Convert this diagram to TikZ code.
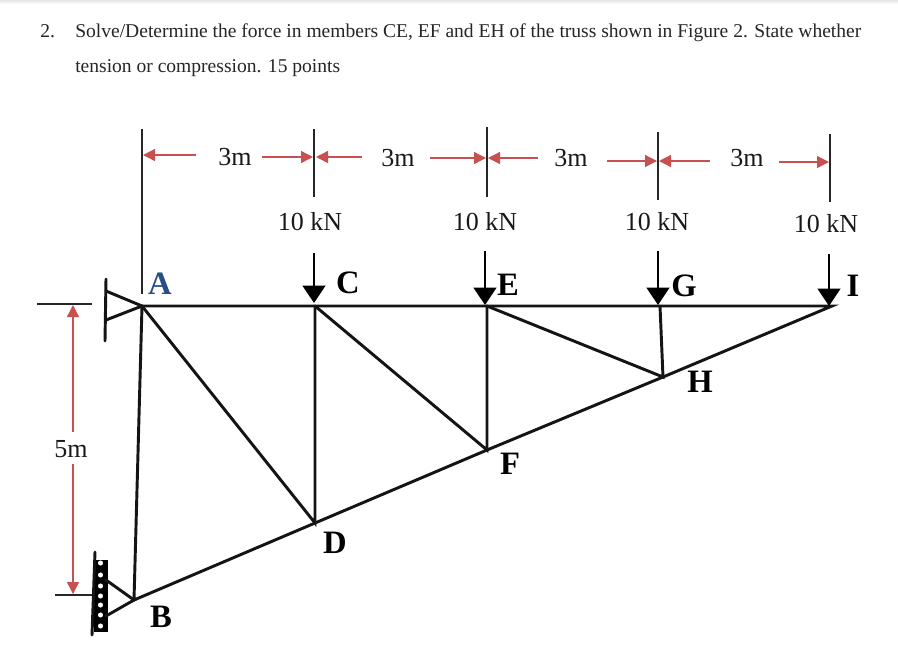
\documentclass[tikz,border=0pt]{standalone}
\usepackage{fontspec}
\setmainfont{Liberation Serif}
\usetikzlibrary{arrows.meta}
\definecolor{dimred}{RGB}{200,80,80}
\definecolor{nodeblue}{RGB}{38,78,135}
\tikzset{
 x=0.75pt,y=-0.75pt,
 member/.style={line width=2.2pt,line cap=round,black!92},
 tick/.style={line width=0.95pt,black!85},
 dimarrow/.style={line width=1pt,dimred,-{Triangle[length=9pt,width=9pt]}},
 load/.style={line width=1.6pt,black,-{Triangle[length=13pt,width=17pt]}},
 body/.style={inner sep=0pt,anchor=base west,text=black!85,font=\fontsize{14.66pt}{16pt}\selectfont},
 dimtext/.style={inner sep=0pt,text=black!90,font=\fontsize{19.5pt}{22pt}\selectfont},
 joint/.style={inner sep=0pt,text=black,font=\fontsize{24.5pt}{26pt}\selectfont\bfseries},
}
\begin{document}
\begin{tikzpicture}
\useasboundingbox (0,0) rectangle (898,669);
\fill[white] (0,0) rectangle (898,669);
\shade[top color=black!10,bottom color=white] (0,0) rectangle (898,4);
% text
\node[body] (num) at (40,37) {2.};
\node[body] (l1) at (75,37) {Solve/Determine the force in members CE, EF and EH of the truss shown in Figure 2. State whether};
\node[body] (l2) at (75,72) {tension or compression. 15 points};
% joints
\coordinate (A) at (142,306);
\coordinate (C) at (315,306);
\coordinate (E) at (487,306);
\coordinate (G) at (660,306);
\coordinate (I) at (832,306);
\coordinate (B) at (134,600);
\coordinate (D) at (315,523);
\coordinate (F) at (487,450);
\coordinate (H) at (663,377);
% members
\draw[member] (A)--(C)--(E)--(G)--(I)--(H)--(F)--(D)--(B)--(A);
\draw[member] (A)--(D)--(C);
\draw[member] (C)--(F)--(E);
\draw[member] (E)--(H)--(G);
% supports
\coordinate (pa1) at (106,279); \coordinate (pa2) at (105,341);
\coordinate (ta1) at (106,291); \coordinate (ta2) at (106,320);
\draw[member] (pa1)--(pa2);
\draw[member] (ta1)--(A)--(ta2);
\coordinate (pb1) at (95,552); \coordinate (pb2) at (92,635);
\coordinate (tb1) at (106,580); \coordinate (tb2) at (106,616);
\fill[black] (94,560) rectangle (108,632);
\draw[member] (pb1)--(pb2);
\draw[member] (tb1)--(B)--(tb2);
\foreach \yy in {563,575,586,596,605,615,626}
  \fill[white] (100.5,\yy) circle[radius=1.9pt];
% dimension ticks
\coordinate (t1a) at (142,129); \coordinate (t1b) at (142,294);
\coordinate (t2a) at (314,129); \coordinate (t2b) at (314,197);
\coordinate (t3a) at (487,127); \coordinate (t3b) at (487,197);
\coordinate (t4a) at (658,132); \coordinate (t4b) at (658,200);
\coordinate (t5a) at (830,134); \coordinate (t5b) at (830,202);
\foreach \p in {1,...,5} \draw[tick] (t\p a)--(t\p b);
\coordinate (v1a) at (37,304); \coordinate (v1b) at (92,304);
\coordinate (v2a) at (55,595); \coordinate (v2b) at (92,595);
\draw[tick] (v1a)--(v1b);
\draw[tick] (v2a)--(v2b);
% dimension labels
\node[dimtext] (d1) at (235,157) {3m};
\node[dimtext] (d2) at (398,158) {3m};
\node[dimtext] (d3) at (571,158) {3m};
\node[dimtext] (d4) at (747,158) {3m};
\node[dimtext] (d5) at (71,449) {5m};
% red arrows
\coordinate (a1) at (196,155); \coordinate (a1e) at (143,155);
\coordinate (a2) at (262,157); \coordinate (a2e) at (313,157);
\coordinate (a3) at (362,157); \coordinate (a3e) at (316,157);
\coordinate (a4) at (430,158); \coordinate (a4e) at (486,158);
\coordinate (a5) at (538,158); \coordinate (a5e) at (488,158);
\coordinate (a6) at (607,161); \coordinate (a6e) at (657,161);
\coordinate (a7) at (710,161); \coordinate (a7e) at (659,161);
\coordinate (a8) at (779,162); \coordinate (a8e) at (829,162);
\foreach \p in {1,...,8} \draw[dimarrow] (a\p)--(a\p e);
\coordinate (a9) at (73,432); \coordinate (a9e) at (73,305);
\coordinate (a10) at (73,464); \coordinate (a10e) at (73,594);
\draw[dimarrow] (a9)--(a9e);
\draw[dimarrow] (a10)--(a10e);
% loads
\node[dimtext] (k1) at (310,222) {10 kN};
\node[dimtext] (k2) at (485,222) {10 kN};
\node[dimtext] (k3) at (657,222) {10 kN};
\node[dimtext] (k4) at (826,224) {10 kN};
\coordinate (f1) at (314,253); \coordinate (f1e) at (314,303);
\coordinate (f2) at (485,251); \coordinate (f2e) at (485,305);
\coordinate (f3) at (658,251); \coordinate (f3e) at (658,305);
\coordinate (f4) at (829,254); \coordinate (f4e) at (829,306);
\foreach \p in {1,...,4} \draw[load] (f\p)--(f\p e);
% joint labels
\node[joint,text=nodeblue] (LA) at (160,284) {A};
\node[joint] (LC) at (348,283) {C};
\node[joint] (LE) at (508,285) {E};
\node[joint] (LG) at (684,286) {G};
\node[joint] (LI) at (853,286) {I};
\node[joint] (LH) at (700,382) {H};
\node[joint] (LF) at (510,464) {F};
\node[joint] (LD) at (335,543) {D};
\node[joint] (LB) at (161,617) {B};
\end{tikzpicture}
\end{document}
